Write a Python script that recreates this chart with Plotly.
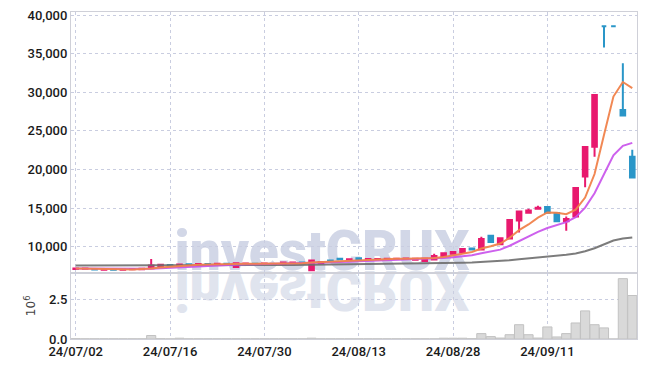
import base64
import pandas as pd
import plotly.graph_objects as go
from plotly.subplots import make_subplots

dates = ["24/07/02","24/07/03","24/07/04","24/07/05","24/07/08","24/07/09","24/07/10","24/07/11","24/07/12","24/07/15",
         "24/07/16","24/07/17","24/07/18","24/07/19","24/07/22","24/07/23","24/07/24","24/07/25","24/07/26","24/07/29",
         "24/07/30","24/07/31","24/08/01","24/08/02","24/08/05","24/08/06","24/08/07","24/08/08","24/08/09","24/08/12",
         "24/08/13","24/08/14","24/08/16","24/08/19","24/08/20","24/08/21","24/08/22","24/08/23","24/08/26","24/08/27",
         "24/08/28","24/08/29","24/08/30","24/09/02","24/09/03","24/09/04","24/09/05","24/09/06","24/09/09","24/09/10",
         "24/09/11","24/09/12","24/09/13","24/09/19","24/09/20","24/09/23","24/09/24","24/09/25","24/09/26","24/09/27"]

open_ = [7120,7150,7100,7020,7060,7020,7080,7090,7200,7480,
         7620,7600,7720,7700,7760,7700,7780,7380,7780,7800,
         7780,7760,7720,7900,7950,6950,7850,8220,8430,8330,
         8500,8380,8400,8400,8410,8400,8300,8150,8350,8800,
         9100,9250,9750,9650,11400,10300,11050,13400,14400,14900,
         15150,14350,13300,13900,19100,22950,38550,38550,27700,21650]
high = [7200,7200,7120,7080,7070,7080,7130,7150,8400,7700,
        7650,7750,7740,7850,7780,7820,7800,7880,7850,7830,
        7830,7790,7980,7980,7960,8250,8050,8250,8450,8380,
        8520,8450,8440,8450,8460,8480,8480,8480,9100,9250,
        9380,9800,9850,11300,11500,11150,13500,14700,14900,15300,
        15200,14400,13900,17650,22950,29700,38550,38550,33750,22550]
low = [7100,7120,7030,7000,7000,7000,7060,7080,7180,7450,
       7540,7580,7640,7650,7700,7690,7720,7350,7760,7760,
       7760,7700,7700,7880,7820,6930,7800,8150,8360,8300,
       8400,8360,8380,8380,8400,8380,8280,8120,8320,8750,
       9050,9200,9600,9600,10500,10250,11000,11850,14300,14850,
       14350,13250,12050,13850,17700,21650,35800,38550,26990,18900]
close = [7170,7170,7050,7060,7020,7060,7110,7130,7550,7650,
         7560,7700,7660,7750,7720,7800,7740,7850,7820,7780,
         7810,7730,7950,7960,7850,8200,8000,8170,8380,8360,
         8420,8420,8420,8430,8440,8460,8450,8450,8800,9150,
         9300,9700,9650,11000,10600,11100,13450,14550,14700,15050,
         14400,13300,13600,17600,22900,29650,38550,38550,27000,18950]
volume_m = [0.02,0.01,0.01,0.01,0.01,0.01,0.01,0.01,0.22,0.02,
            0.01,0.05,0.01,0.01,0.01,0.01,0.01,0.01,0.01,0.01,
            0.01,0.01,0.01,0.01,0.01,0.05,0.01,0.01,0.01,0.01,
            0.01,0.01,0.01,0.01,0.01,0.01,0.01,0.01,0.01,0.05,
            0.05,0.05,0.02,0.34,0.15,0.06,0.27,0.90,0.27,0.06,
            0.76,0.13,0.34,1.01,1.77,0.90,0.70,0.0,3.80,2.74]
ma60 = [7560,7560,7555,7550,7545,7540,7540,7540,7545,7550,
        7555,7560,7565,7570,7575,7580,7585,7590,7595,7600,
        7610,7620,7630,7640,7650,7660,7670,7685,7700,7715,
        7730,7745,7760,7775,7790,7805,7820,7835,7850,7870,
        7890,7920,7960,8010,8070,8140,8250,8360,8470,8600,
        8720,8830,8950,9130,9400,9800,10300,10800,11050,11200]

price_ticks = [10000,15000,20000,25000,30000,35000,40000]
x_ticks = ["24/07/02","24/07/16","24/07/30","24/08/13","24/08/28","24/09/11"]
vol_ticks = [0.0, 2.5]

UP = "#e8196e"
DOWN = "#2a96c8"
FONT = "Roboto, Liberation Sans, sans-serif"
GRID = "#c9cde0"
LINE = "#cfd0d8"

df = pd.DataFrame({"date": dates, "open": open_, "high": high, "low": low, "close": close,
                   "vol": volume_m, "ma60": ma60})
df["ma5"] = df["close"].rolling(5, min_periods=1).mean()
df["ma10"] = df["close"].rolling(10, min_periods=1).mean()
up = df["close"] > df["open"]

fig = make_subplots(rows=2, cols=1, shared_xaxes=True, vertical_spacing=0,
                    row_heights=[0.797, 0.203])

for mask, col in ((up, UP), (~up, DOWN)):
    d = df.where(mask)
    fig.add_trace(go.Candlestick(
        x=df["date"], open=d["open"], high=d["high"], low=d["low"], close=d["close"],
        increasing=dict(line=dict(color=col, width=2), fillcolor=col),
        decreasing=dict(line=dict(color=col, width=2), fillcolor=col),
        showlegend=False, hoverinfo="skip"), row=1, col=1)

fig.add_trace(go.Scatter(x=df["date"], y=df["ma60"], mode="lines",
                         line=dict(color="rgba(110,110,110,0.9)", width=2), showlegend=False), row=1, col=1)
fig.add_trace(go.Scatter(x=df["date"], y=df["ma10"], mode="lines",
                         line=dict(color="rgba(200,80,235,0.9)", width=2), showlegend=False), row=1, col=1)
fig.add_trace(go.Scatter(x=df["date"], y=df["ma5"], mode="lines",
                         line=dict(color="rgba(240,130,75,0.95)", width=2), showlegend=False), row=1, col=1)

fig.add_trace(go.Bar(x=df["date"], y=df["vol"], marker=dict(color="#d9d9d9", line=dict(color="#c2c2c2", width=1)),
                     showlegend=False), row=2, col=1)

axis_common = dict(showline=True, mirror=True, linecolor=LINE, linewidth=1,
                   showgrid=True, gridcolor=GRID, griddash="dot", gridwidth=1,
                   zeroline=False, ticks="", automargin=False,
                   tickfont=dict(family=FONT, size=13, color="#1a1a1a", weight=500))

fig.update_xaxes(type="category", tickmode="array", tickvals=x_ticks, ticktext=x_ticks,
                 range=[-0.5, len(dates) - 0.5], rangeslider=dict(visible=False), **axis_common)
fig.update_xaxes(showticklabels=False, row=1, col=1)
fig.update_yaxes(range=[6640, 40400], tickvals=price_ticks, tickformat=",d", row=1, col=1, **axis_common)
fig.update_yaxes(range=[0, 4.18], tickvals=vol_ticks, tickformat=".1f", row=2, col=1,
                 title=dict(text="10<sup>6</sup>", font=dict(family="DejaVu Sans", size=12, color="#444"), standoff=10),
                 **axis_common)

# plot area geometry in pixels for watermark placement
L, R, T, B = 71, 637, 12, 339.5
W, H = R - L, B - T
def px(x): return (x - L) / W
def py(y): return (B - y) / H

wm_color = "#d2d7e7"
fig.add_shape(type="rect", xref="paper", yref="paper", layer="below",
              x0=px(172), x1=px(472), y0=py(266.5), y1=py(227.5),
              line=dict(width=0), fillcolor="rgba(0,0,0,0)",
              label=dict(text="investCRUX", textposition="middle center",
                         font=dict(family="Roboto", size=55, color=wm_color, weight=900)))

svg_w, svg_h = 320, 50
svg = (f'<svg xmlns="http://www.w3.org/2000/svg" width="{svg_w}" height="{svg_h}" viewBox="0 0 {svg_w} {svg_h}">'
       f'<text x="{svg_w/2}" y="0" text-anchor="middle" font-family="Roboto" font-weight="900" '
       f'font-size="55" fill="#e0e4ee" transform="scale(1,-1)">investCRUX</text></svg>')
src = "data:image/svg+xml;base64," + base64.b64encode(svg.encode()).decode()
fig.add_layout_image(source=src, xref="paper", yref="paper", x=px(322 - svg_w / 2), y=py(271),
                     sizex=svg_w / W, sizey=svg_h / H, xanchor="left", yanchor="top",
                     sizing="stretch", layer="below")

fig.update_layout(width=645, height=368, margin=dict(l=L, r=645 - R, t=T, b=368 - B, autoexpand=False),
                  paper_bgcolor="white", plot_bgcolor="rgba(0,0,0,0)",
                  bargap=0.03, showlegend=False, hovermode=False)

fig.write_html("out.html", config={"displayModeBar": False},
               post_script="document.body.style.margin='0';document.body.style.padding='0';")
